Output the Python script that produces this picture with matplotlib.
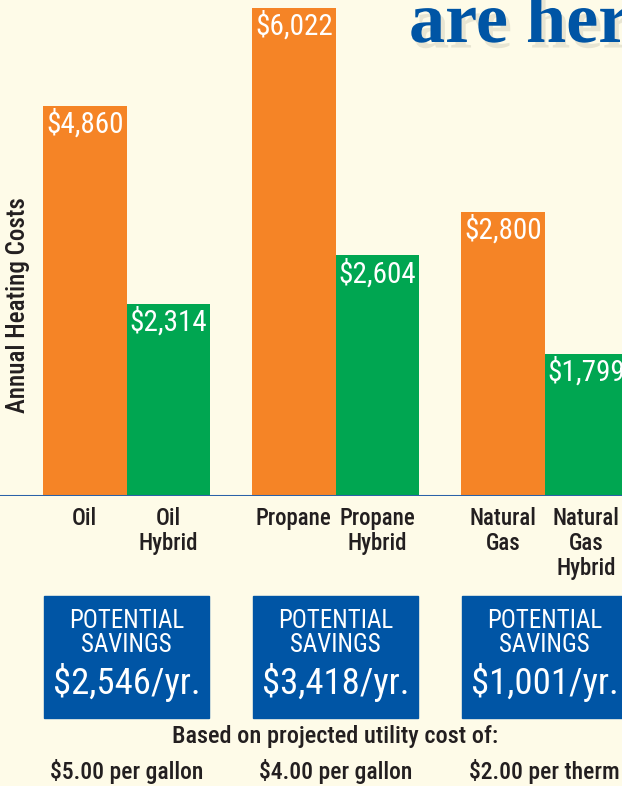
import matplotlib
matplotlib.use('Agg')
import matplotlib.pyplot as plt
import matplotlib.patheffects as pe
from matplotlib import font_manager as fm
from matplotlib.patches import Rectangle
from matplotlib.transforms import blended_transform_factory

# values as printed on the chart
fuels = ['Oil', 'Oil\nHybrid', 'Propane', 'Propane\nHybrid',
         'Natural\nGas', 'Natural\nGas\nHybrid']
cost_labels = ['$4,860', '$2,314', '$6,022', '$2,604', '$2,800', '$1,799']
# bar heights as drawn in the picture (the artwork is not to scale)
bar_heights = [4810, 2374, 6022, 2968, 3500, 1756]
savings = ['$2,546/yr.', '$3,418/yr.', '$1,001/yr.']
utility_costs = ['$5.00 per gallon', '$4.00 per gallon', '$2.00 per therm']

BG = '#fefbe8'
ORANGE = '#f58426'
GREEN = '#00a651'
BLUE = '#0055a5'
DARK = '#231f20'

# pick a condensed sans if one is around
names = {f.name for f in fm.fontManager.ttflist}
if 'Roboto Condensed' in names:
    CF = dict(family=['Roboto Condensed', 'DejaVu Sans'])
elif 'Liberation Sans Narrow' in names:
    CF = dict(family=['Liberation Sans Narrow', 'DejaVu Sans'])
else:
    CF = dict(family=['DejaVu Sans'], fontstretch='condensed')

W, H = 622, 786
base_px = 496

fig = plt.figure(figsize=(W / 100, H / 100), dpi=100, facecolor=BG)
ax = fig.add_axes([0, 1 - base_px / H, 1, base_px / H])
ax.set_facecolor(BG)

bw = 0.4
xs = []
for g in range(3):
    xs += [g - bw / 2, g + bw / 2]
colors = [ORANGE, GREEN] * 3

ax.bar(xs, bar_heights, width=bw, color=colors, zorder=2)
ax.axhline(0, color='#2a62a8', lw=2.2, zorder=3)

px_per_unit = 209
left = -bw - 43 / px_per_unit
ax.set_xlim(left, left + W / px_per_unit)
ymax = 6022 * base_px / 488
ax.set_ylim(0, ymax)

for x, h, lab in zip(xs, bar_heights, cost_labels):
    ax.annotate(lab, (x, h), xytext=(0, -18), textcoords='offset pixels',
                ha='center', va='center', color='white', fontsize=21,
                zorder=4, **CF)

ax.set_xticks(xs, fuels)
ax.tick_params(axis='x', length=0, pad=8, labelsize=16.5, labelcolor=DARK)
for t in ax.get_xticklabels():
    t.set(fontweight='medium', linespacing=1.1, va='top', **CF)
ax.set_yticks([])
for s in ax.spines.values():
    s.set_visible(False)

fig.text(18 / W, 1 - 305 / H, 'Annual Heating Costs', rotation=90,
         ha='center', va='center', fontsize=18, color=DARK,
         fontweight='medium', **CF)

# potential savings boxes
tr = blended_transform_factory(ax.transData, fig.transFigure)
box_w = 165 / px_per_unit
for g, amt in enumerate(savings):
    ax.add_patch(Rectangle((g - box_w / 2, 1 - 718 / H), box_w, 122 / H,
                           transform=tr, color=BLUE, clip_on=False))
    ax.text(g, 1 - 621 / H, 'POTENTIAL', transform=tr, ha='center',
            va='center', color='white', fontsize=18, **CF)
    ax.text(g, 1 - 645 / H, 'SAVINGS', transform=tr, ha='center',
            va='center', color='white', fontsize=18, **CF)
    ax.text(g, 1 - 683 / H, amt, transform=tr, ha='center',
            va='center', color='white', fontsize=26.5, **CF)
    ax.text(g, 1 - 772 / H, utility_costs[g], transform=tr, ha='center',
            va='center', color=DARK, fontsize=17, fontweight='medium', **CF)

fig.text(335 / W, 1 - 737 / H, 'Based on projected utility cost of:',
         ha='center', va='center', fontsize=17.5, fontweight='medium',
         color=DARK, **CF)

# headline, cut off by the frame
fig.text(409 / W, 1 - 42 / H, 'are here', ha='left', va='baseline',
         fontsize=52, fontweight='bold', color=BLUE,
         family=['Liberation Serif', 'DejaVu Serif'],
         path_effects=[pe.withSimplePatchShadow(offset=(3, -4),
                                                shadow_rgbFace='#9a9a88',
                                                alpha=0.22)])

fig.savefig('out.png', dpi=100, facecolor=BG)
